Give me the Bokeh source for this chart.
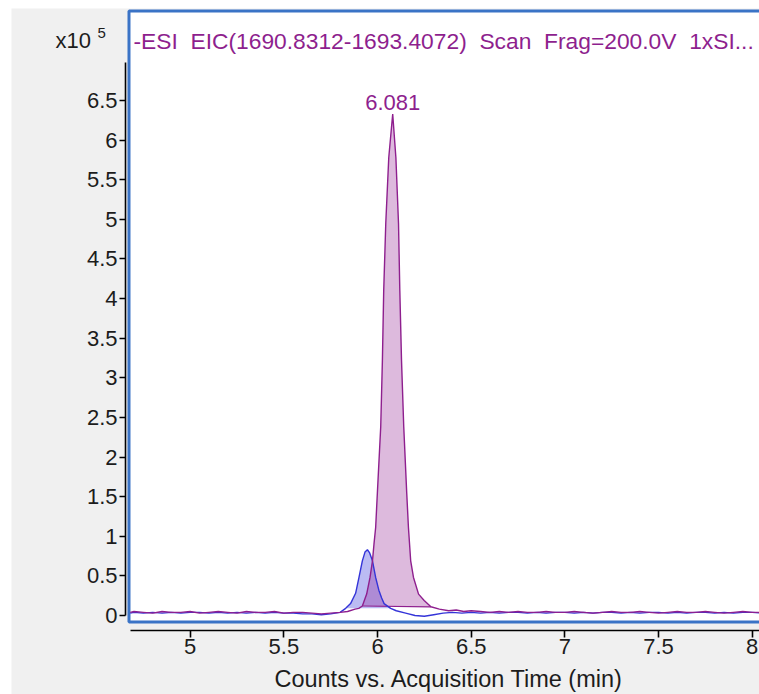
import numpy as np
from bokeh.plotting import figure
from bokeh.models import Range1d, FixedTicker, BoxAnnotation, Label, ColumnDataSource
from bokeh.core.properties import value
from bokeh.embed import file_html
from bokeh.resources import INLINE

# EIC trace: acquisition time (min) and intensity (x10^5 counts)
eic_time = [
    4.68, 4.70, 4.75, 4.80, 4.85, 4.90, 4.95, 5.00, 5.05, 5.10, 5.15, 5.20,
    5.25, 5.30, 5.35, 5.40, 5.45, 5.50, 5.55, 5.60, 5.65, 5.70, 5.75, 5.80,
    5.84, 5.88, 5.90, 5.919, 5.942, 5.960, 5.973, 5.981, 5.990, 5.999, 6.017, 6.026,
    6.033, 6.044, 6.060, 6.081, 6.098, 6.112, 6.119, 6.128, 6.140, 6.156, 6.165, 6.177,
    6.192, 6.219, 6.249, 6.285, 6.33, 6.38, 6.42, 6.46, 6.50, 6.55, 6.60, 6.65,
    6.70, 6.75, 6.80, 6.85, 6.90, 6.95, 7.00, 7.05, 7.10, 7.15, 7.20, 7.25,
    7.30, 7.35, 7.40, 7.45, 7.50, 7.55, 7.60, 7.65, 7.70, 7.75, 7.80, 7.85,
    7.90, 7.95, 8.00, 8.05,
]
eic_counts = [
    0.04, 0.05, 0.04, 0.03, 0.05, 0.04, 0.04, 0.05, 0.03, 0.04, 0.05, 0.04,
    0.03, 0.05, 0.04, 0.04, 0.05, 0.03, 0.04, 0.04, 0.03, 0.02, 0.03, 0.04,
    0.05, 0.08, 0.09, 0.12, 0.27, 0.48, 0.69, 0.90, 1.11, 1.54, 2.38, 3.22,
    4.10, 4.95, 5.78, 6.33, 5.78, 4.95, 4.10, 3.22, 2.38, 1.54, 1.11, 0.69,
    0.48, 0.27, 0.19, 0.11, 0.08, 0.06, 0.07, 0.05, 0.06, 0.05, 0.04, 0.05,
    0.04, 0.05, 0.04, 0.04, 0.05, 0.04, 0.04, 0.05, 0.04, 0.03, 0.04, 0.05,
    0.04, 0.04, 0.05, 0.04, 0.03, 0.04, 0.05, 0.04, 0.04, 0.05, 0.04, 0.03,
    0.04, 0.05, 0.04, 0.04,
]

# Co-eluting trace (blue)
ref_time = [
    4.68, 4.70, 4.75, 4.80, 4.85, 4.90, 4.95, 5.00, 5.05, 5.10, 5.15, 5.20,
    5.25, 5.30, 5.35, 5.40, 5.45, 5.50, 5.55, 5.60, 5.65, 5.70, 5.75, 5.80,
    5.83, 5.856, 5.883, 5.901, 5.919, 5.933, 5.946, 5.958, 5.973, 5.990, 6.007, 6.022,
    6.035, 6.07, 6.10, 6.15, 6.20, 6.25, 6.30, 6.35, 6.40, 6.45, 6.50, 6.55,
    6.60, 6.65, 6.70, 6.75, 6.80, 6.85, 6.90, 6.95, 7.00, 7.05, 7.10, 7.15,
    7.20, 7.25, 7.30, 7.35, 7.40, 7.45, 7.50, 7.55, 7.60, 7.65, 7.70, 7.75,
    7.80, 7.85, 7.90, 7.95, 8.00, 8.05,
]
ref_counts = [
    0.03, 0.04, 0.03, 0.04, 0.03, 0.04, 0.03, 0.04, 0.04, 0.03, 0.04, 0.03,
    0.04, 0.03, 0.04, 0.03, 0.04, 0.03, 0.03, 0.02, 0.02, 0.01, 0.02, 0.04,
    0.09, 0.15, 0.28, 0.48, 0.69, 0.80, 0.83, 0.79, 0.69, 0.48, 0.32, 0.22,
    0.15, 0.09, 0.06, 0.03, 0.00, -0.01, 0.01, 0.03, 0.04, 0.03, 0.04, 0.03,
    0.04, 0.03, 0.04, 0.04, 0.03, 0.04, 0.03, 0.04, 0.04, 0.03, 0.04, 0.03,
    0.04, 0.04, 0.03, 0.04, 0.03, 0.04, 0.04, 0.03, 0.04, 0.03, 0.04, 0.04,
    0.03, 0.04, 0.03, 0.04, 0.04, 0.03,
]

# Integration windows (min)
eic_window = (5.919, 6.285)
ref_window = (5.83, 6.07)

x_ticks = [5, 5.5, 6, 6.5, 7, 7.5, 8]
x_tick_labels = ["5", "5.5", "6", "6.5", "7", "7.5", "8"]
y_ticks = [0, 0.5, 1, 1.5, 2, 2.5, 3, 3.5, 4, 4.5, 5, 5.5, 6, 6.5]
y_tick_labels = ["0", "0.5", "1", "1.5", "2", "2.5", "3", "3.5", "4", "4.5",
                 "5", "5.5", "6", "6.5"]

NB = " \u00a0"  # wide word gap
title_text = NB.join(["-ESI", "EIC(1690.8312-1693.4072)", "Scan", "Frag=200.0V", "1xSI..."])
x_label = "Counts vs. Acquisition Time (min)"

FONT = "Liberation Sans"
PURPLE = "#8e1f8e"
BLUE = "#3434d8"
PANEL = "#f0f0f0"
INK = "#1c1c1c"

# The frame spans the whole canvas; axes sit at fixed positions inside it
p = figure(
    width=748, height=686, output_backend="svg", toolbar_location=None,
    x_range=Range1d(4.0461, 8.039), y_range=Range1d(-0.9971, 7.661),
    min_border_left=0, min_border_right=0, min_border_top=0, min_border_bottom=0,
    background_fill_color=PANEL, border_fill_color=PANEL,
    outline_line_color=None, margin=(8, 0, 0, 11),
)
p.xgrid.visible = False
p.ygrid.visible = False

# White chart panel with blue frame
p.add_layout(BoxAnnotation(left=4.6733, right=8.3, bottom=-0.082, top=7.63,
                           fill_color="white", fill_alpha=1.0,
                           line_color="#3a73c6", line_alpha=1.0, line_width=3,
                           level="underlay"))

# Axes
xa = p.xaxis[0]
ya = p.yaxis[0]
xa.fixed_location = -0.1893
ya.fixed_location = 4.6546
xa.ticker = FixedTicker(ticks=x_ticks)
ya.ticker = FixedTicker(ticks=y_ticks)
xa.major_label_overrides = {t: l for t, l in zip(x_ticks, x_tick_labels)}
ya.major_label_overrides = {t: l for t, l in zip(y_ticks, y_tick_labels)}
xa.bounds = (4.6813, 8.039)
ya.bounds = (0, 6.98)
for ax in (xa, ya):
    ax.axis_line_color = "black"
    ax.axis_line_width = 1.6
    ax.major_tick_line_color = "black"
    ax.major_tick_line_width = 1.6
    ax.major_tick_in = 0
    ax.minor_tick_line_color = None
    ax.major_label_text_font = FONT
    ax.major_label_text_font_size = "22px"
    ax.major_label_text_color = INK
xa.major_tick_out = 7
ya.major_tick_out = 6
xa.major_label_standoff = 2
ya.major_label_standoff = 2


def window_fill(t, c, window):
    t = np.asarray(t, dtype=float)
    c = np.asarray(c, dtype=float)
    m = (t >= window[0] - 1e-9) & (t <= window[1] + 1e-9)
    tw, cw = t[m], c[m]
    base = np.interp(tw, [tw[0], tw[-1]], [cw[0], cw[-1]])
    return tw, cw, base


rt, rc, rb = window_fill(ref_time, ref_counts, ref_window)
et, ec, eb = window_fill(eic_time, eic_counts, eic_window)

p.varea(x=rt, y1=rb, y2=rc, fill_color="#3c3cdc", fill_alpha=0.35)
p.varea(x=et, y1=eb, y2=ec, fill_color="#902090", fill_alpha=0.31)
p.line(x=[et[0], et[-1]], y=[eb[0], eb[-1]], line_color=PURPLE, line_width=1.2)

p.line(x=ref_time, y=ref_counts, line_color=BLUE, line_width=1.4)
p.line(x=eic_time, y=eic_counts, line_color=PURPLE, line_width=1.4)

# Apex retention time label
i_apex = int(np.argmax(eic_counts))
apex_src = ColumnDataSource(dict(x=[eic_time[i_apex]], y=[eic_counts[i_apex]],
                                 label=[f"{eic_time[i_apex]:.3f}"]))
p.text(x="x", y="y", text="label", source=apex_src, text_align="center",
       text_baseline="bottom", y_offset=-4, text_font=value(FONT),
       text_font_size="22px", text_color=PURPLE)

# Chart header, y scale multiplier and x axis title
p.add_layout(Label(x=4.697, y=7.257, text=title_text, text_baseline="middle",
                   text_font=FONT, text_font_size="22.8px", text_color=PURPLE))
p.add_layout(Label(x=4.281, y=7.257, text="x10", text_baseline="middle",
                   text_font=FONT, text_font_size="22px", text_color=INK))
p.add_layout(Label(x=4.505, y=7.35, text="5", text_baseline="middle",
                   text_font=FONT, text_font_size="15px", text_color=INK))
p.add_layout(Label(x=6.3815, y=-0.80, text=x_label, text_align="center",
                   text_baseline="middle", text_font=FONT, text_font_size="23.5px",
                   text_color=INK))

open("out.html", "w").write(file_html(p, INLINE))
